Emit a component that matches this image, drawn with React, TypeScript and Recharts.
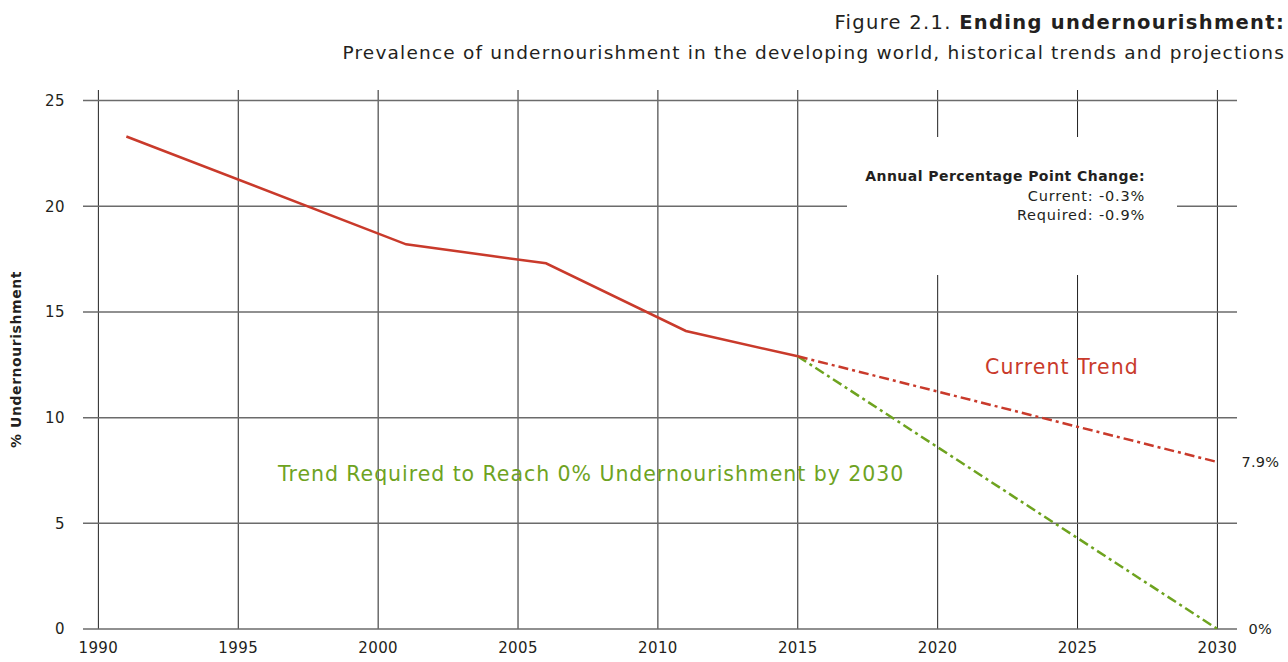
import React from "react";
import { LineChart, Line, XAxis, YAxis, CartesianGrid, Label } from "recharts";

const historicalYears = [1991, 2001, 2006, 2011, 2015];
const historicalValues = [23.3, 18.2, 17.3, 14.1, 12.9];
const currentTrendYears = [2015, 2030];
const currentTrendValues = [12.9, 7.9];
const requiredTrendYears = [2015, 2030];
const requiredTrendValues = [12.9, 0];
const xTicks = [1990, 1995, 2000, 2005, 2010, 2015, 2020, 2025, 2030];
const yTicks = [0, 5, 10, 15, 20, 25];
const endLabels = ["7.9%", "0%"];

const historical = historicalYears.map((year, i) => ({ year, v: historicalValues[i] }));
const currentTrend = currentTrendYears.map((year, i) => ({ year, v: currentTrendValues[i] }));
const requiredTrend = requiredTrendYears.map((year, i) => ({ year, v: requiredTrendValues[i] }));

const RED = "#c93a2b";
const GREEN = "#6ea31f";
const FONT = "'DejaVu Sans', sans-serif";
const TEXT = "#231f20";

const endLabel = (text: string, dx: number) => (props: any) => {
  const { x, y, index } = props;
  if (index !== 1) return null;
  return (
    <text x={x + dx} y={y} dy={5} fontSize={14.5} fill={TEXT} fontFamily={FONT} letterSpacing={0.3}>
      {text}
    </text>
  );
};

export default function App() {
  return (
    <div style={{ position: "absolute", left: 0, top: 0, width: 1288, height: 662, background: "#fff", fontFamily: FONT }}>
      <div style={{ position: "absolute", right: 3, top: 10, fontSize: 19.5, color: TEXT, whiteSpace: "nowrap", lineHeight: "26px", letterSpacing: 1.3 }}>
        Figure 2.1. <b>Ending undernourishment:</b>
      </div>
      <div style={{ position: "absolute", right: 3, top: 40, fontSize: 18.5, color: TEXT, whiteSpace: "nowrap", lineHeight: "26px", letterSpacing: 1.2 }}>
        Prevalence of undernourishment in the developing world, historical trends and projections
      </div>
      <LineChart width={1288} height={662} margin={{ top: 90, right: 51, bottom: 0, left: 0 }}>
        <CartesianGrid stroke="#222" strokeWidth={1} horizontal={false} syncWithTicks />
        <CartesianGrid stroke="#6b6b6b" strokeWidth={1.5} vertical={false} syncWithTicks />
        <XAxis
          type="number"
          dataKey="year"
          domain={[1989.45, 2030.7]}
          ticks={xTicks}
          axisLine={false}
          tickLine={false}
          tickSize={0}
          tickMargin={13}
          height={33}
          interval={0}
          allowDataOverflow
          tick={{ fontSize: 15, fill: TEXT, fontFamily: FONT, letterSpacing: 0.4 }}
        />
        <YAxis
          type="number"
          domain={[0, 25.5]}
          ticks={yTicks}
          axisLine={false}
          tickLine={false}
          tickSize={0}
          tickMargin={18}
          width={83}
          allowDataOverflow
          tick={{ fontSize: 15, fill: TEXT, fontFamily: FONT, letterSpacing: 0.4 }}
        >
          <Label
            value="% Undernourishment"
            angle={-90}
            position="insideLeft"
            offset={16}
            style={{ fontSize: 14, fontWeight: 700, fill: TEXT, fontFamily: FONT, textAnchor: "middle", letterSpacing: 0.55 }}
          />
        </YAxis>
        <Line data={historical} dataKey="v" stroke={RED} strokeWidth={2.5} dot={false} isAnimationActive={false} />
        <Line
          data={requiredTrend}
          dataKey="v"
          stroke={GREEN}
          strokeWidth={2.5}
          strokeDasharray="10 4 3 4"
          dot={false}
          isAnimationActive={false}
          label={endLabel(endLabels[1], 31)}
        />
        <Line
          data={currentTrend}
          dataKey="v"
          stroke={RED}
          strokeWidth={2.5}
          strokeDasharray="10 4 3 4"
          dot={false}
          isAnimationActive={false}
          label={endLabel(endLabels[0], 24)}
        />
      </LineChart>
      <div
        style={{
          position: "absolute",
          left: 847,
          top: 137,
          width: 330,
          height: 138,
          background: "#fff",
          boxSizing: "border-box",
          paddingRight: 32,
          paddingTop: 30,
          textAlign: "right",
          fontSize: 14,
          lineHeight: "19.5px",
          color: TEXT,
          whiteSpace: "nowrap",
        }}
      >
        <div style={{ fontWeight: 700, letterSpacing: 0.45 }}>Annual Percentage Point Change:</div>
        <div style={{ fontSize: 14.5, letterSpacing: 0.8 }}>Current: -0.3%</div>
        <div style={{ fontSize: 14.5, letterSpacing: 0.8 }}>Required: -0.9%</div>
      </div>
      <div style={{ position: "absolute", left: 985, top: 353, fontSize: 20.5, color: RED, whiteSpace: "nowrap", lineHeight: "28px", letterSpacing: 1.1 }}>
        Current Trend
      </div>
      <div style={{ position: "absolute", left: 278, top: 460, fontSize: 20.5, color: GREEN, whiteSpace: "nowrap", lineHeight: "28px", letterSpacing: 0.95 }}>
        Trend Required to Reach 0% Undernourishment by 2030
      </div>
    </div>
  );
}
